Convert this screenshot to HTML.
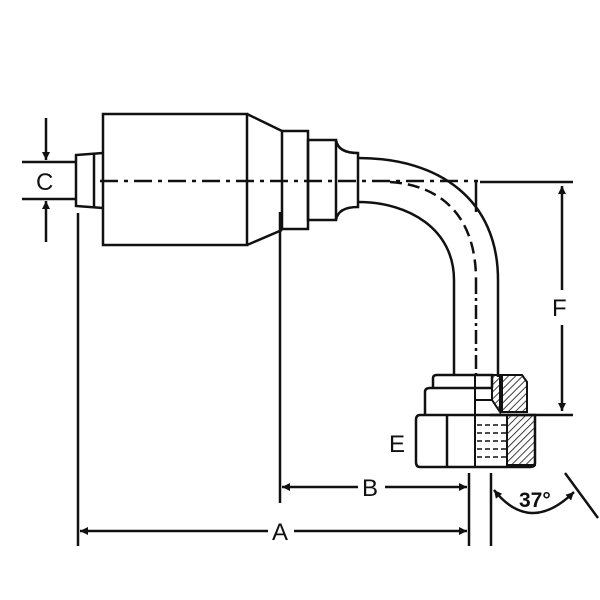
<!DOCTYPE html>
<html><head><style>html,body{margin:0;padding:0;background:#fff}svg{display:block}</style></head>
<body>
<svg width="600" height="600" viewBox="0 0 600 600" xmlns="http://www.w3.org/2000/svg" font-family="Liberation Sans, sans-serif">
<defs>
<pattern id="h" width="5" height="5" patternUnits="userSpaceOnUse" patternTransform="rotate(45)">
<line x1="0" y1="0" x2="0" y2="5" stroke="#111" stroke-width="1.6"/>
</pattern>
<marker id="ar" viewBox="0 0 10 10" refX="10" refY="5" markerWidth="13" markerHeight="8" markerUnits="userSpaceOnUse" orient="auto-start-reverse">
<path d="M0,0 L10,5 L0,10 z" fill="#111"/>
</marker>
</defs>
<g stroke="#111" stroke-width="2.5" fill="none">
<line x1="22" y1="162" x2="75" y2="162"/>
<line x1="22" y1="199" x2="75" y2="199"/>
<line x1="46" y1="118" x2="46" y2="160" marker-end="url(#ar)"/>
<line x1="46" y1="242" x2="46" y2="201" marker-end="url(#ar)"/>
<path d="M103,153 L76,155 L76,206 L103,208"/>
<line x1="94" y1="154" x2="94" y2="207"/>
<rect x="103" y="114" width="144" height="131"/>
<path d="M247,114 L282,131 M247,245 L282,230"/>
<rect x="282" y="131" width="26" height="98"/>
<rect x="308" y="140" width="28" height="80"/>
<path d="M336,140 Q338,153 358,153 L358,207 Q338,207 336,220"/>
<path d="M358,158 C440,158 498,200 498,280 L498,377"/>
<path d="M358,202 C410,202 454,230 454,280 L454,375"/>
<path d="M390,182 C440,185 476,215 476,280" stroke-dasharray="12,6"/>
<line x1="476" y1="280" x2="476" y2="375" stroke-dasharray="14,4,3,4"/>
<line x1="476" y1="182" x2="476" y2="212"/>
<line x1="100" y1="181" x2="478" y2="181" stroke-dasharray="18,6,4,6"/>
<line x1="480" y1="182" x2="573" y2="182"/>
<line x1="490" y1="415" x2="573" y2="415"/>
<line x1="562" y1="186" x2="562" y2="290" marker-start="url(#ar)"/>
<line x1="562" y1="325" x2="562" y2="411" marker-end="url(#ar)"/>
<path d="M433,388 L433,378 Q433,375 437,375 L492,375 L492,388"/>
<path d="M425,415 L425,392 Q425,388 430,388 L492,388"/>
<rect x="475" y="375" width="17" height="25" stroke-width="2"/>
<path d="M492,375 L500,375 L500,412 L492,400 z" fill="url(#h)" stroke-width="2"/>
<path d="M502,375 L522,375 L527,382 L527,412 L502,412 z" fill="url(#h)" stroke-width="2"/>
<path d="M420,415 L535,415 L535,463 Q535,467 530,467 L420,467 Q416,467 416,462 L416,420 Q416,415 420,415 z"/>
<line x1="447" y1="415" x2="447" y2="467"/>
<line x1="475" y1="400" x2="475" y2="467" stroke-width="2"/>
<path d="M507,415 L535,415 L535,465 L507,465 z" fill="url(#h)" stroke-width="2"/>
<g stroke-width="1.5" stroke-dasharray="5,3">
<line x1="477" y1="425" x2="506" y2="425"/><line x1="477" y1="433" x2="506" y2="433"/>
<line x1="477" y1="441" x2="506" y2="441"/><line x1="477" y1="449" x2="506" y2="449"/>
<line x1="477" y1="457" x2="506" y2="457"/>
</g>
<line x1="78" y1="213" x2="78" y2="546"/>
<line x1="280" y1="212" x2="280" y2="503"/>
<line x1="469" y1="473" x2="469" y2="546"/>
<line x1="491" y1="473" x2="491" y2="546"/>
<line x1="565" y1="473" x2="598" y2="518"/>
<line x1="282" y1="487" x2="358" y2="487" marker-start="url(#ar)"/>
<line x1="385" y1="487" x2="467" y2="487" marker-end="url(#ar)"/>
<line x1="80" y1="531" x2="268" y2="531" marker-start="url(#ar)"/>
<line x1="294" y1="531" x2="467" y2="531" marker-end="url(#ar)"/>
<path d="M494,490 Q530,535 574,492" marker-start="url(#ar)" marker-end="url(#ar)"/>
</g>
<g fill="#111" font-size="24">
<text x="36" y="190">C</text>
<text x="552" y="316">F</text>
<text x="389" y="452">E</text>
<text x="362" y="496">B</text>
<text x="272" y="540">A</text>
<text x="519" y="507" font-weight="bold" font-size="21">37°</text>
</g>
</svg>
</body></html>
